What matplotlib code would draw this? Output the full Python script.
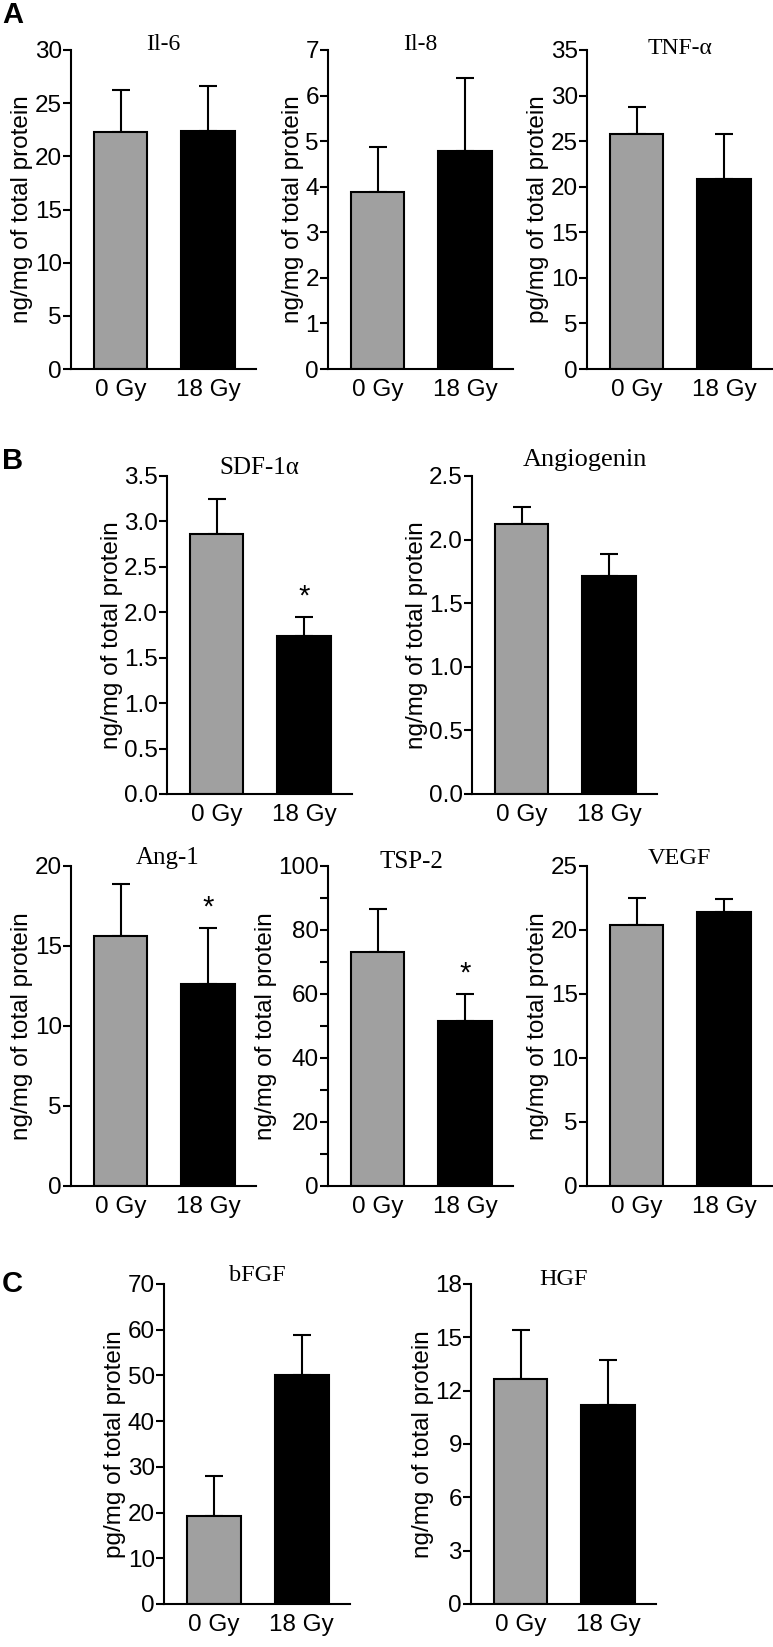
import numpy as np
import matplotlib
matplotlib.use('Agg')
import matplotlib.pyplot as plt
from matplotlib.ticker import MultipleLocator, FormatStrFormatter

plt.rcParams['font.family'] = ['Liberation Sans', 'DejaVu Sans']

W, H = 773, 1647

# data
names = ['Il-6', 'Il-8', 'TNF-\u03b1', 'SDF-1\u03b1', 'Angiogenin',
         'Ang-1', 'TSP-2', 'VEGF', 'bFGF', 'HGF']
groups = ['0 Gy', '18 Gy']
mean_0 = [22.3, 3.89, 25.8, 2.86, 2.12, 15.64, 73.0, 20.4, 19.2, 12.65]
mean_18 = [22.4, 4.79, 20.85, 1.735, 1.71, 12.64, 51.5, 21.4, 50.2, 11.17]
err_0 = [3.9, 0.99, 2.9, 0.39, 0.14, 3.22, 13.5, 2.1, 8.7, 2.74]
err_18 = [4.2, 1.60, 4.95, 0.21, 0.18, 3.46, 8.4, 1.0, 8.7, 2.53]
ymax = [30, 7, 35, 3.5, 2.5, 20, 100, 25, 70, 18]
ystep = [5, 1, 5, 0.5, 0.5, 5, 20, 5, 10, 3]
units = ['ng', 'ng', 'pg', 'ng', 'ng', 'ng', 'ng', 'ng', 'pg', 'ng']
signif = [False, False, False, True, False, True, True, False, False, False]

# layout in pixels: left, top, right, bottom
boxes = [(71, 50, 256, 369), (328, 50, 513, 369), (587, 50, 772, 369),
         (167, 476, 352, 794), (472, 476, 657, 794),
         (71, 866, 256, 1186), (328, 866, 513, 1186), (587, 866, 772, 1186),
         (164, 1284, 350, 1604), (471, 1284, 656, 1604)]
title_pos = [(0.5, 1.016, 17), (0.5, 1.016, 17), (0.5, 1.006, 17),
             (0.5, 1.025, 18), (0.61, 1.05, 19),
             (0.52, 1.024, 18), (0.45, 1.013, 18), (0.5, 1.024, 17.5),
             (0.5, 1.028, 17.5), (0.5, 1.013, 17.5)]

gray = '#a0a0a0'
lw = 1.5
fs = 17.5

fig = plt.figure(figsize=(W / 100, H / 100), dpi=100)

for i in range(len(names)):
    l, t, r, b = boxes[i]
    ax = fig.add_axes([l / W, 1 - b / H, (r - l) / W, (b - t) / H])
    x = np.array([0, 1])
    vals = [mean_0[i], mean_18[i]]
    errs = [err_0[i], err_18[i]]
    ax.errorbar(x, vals, yerr=[[0, 0], errs], fmt='none', ecolor='black',
                elinewidth=lw, capsize=6.5, capthick=lw, zorder=1)
    ax.bar(x, vals, width=0.61, color=[gray, 'black'], edgecolor='black',
           linewidth=lw, zorder=2)
    ax.set_xlim(-0.566, 1.549)
    ax.set_ylim(0, ymax[i])
    ax.yaxis.set_major_locator(MultipleLocator(ystep[i]))
    if names[i] == 'TSP-2':
        ax.yaxis.set_minor_locator(MultipleLocator(10))
        ax.tick_params(axis='y', which='minor', length=5.5, width=lw)
    if ystep[i] < 1:
        ax.yaxis.set_major_formatter(FormatStrFormatter('%.1f'))
    ax.set_xticks(x)
    ax.set_xticklabels(groups)
    ax.tick_params(axis='x', length=0, pad=7, labelsize=fs)
    ax.tick_params(axis='y', length=5.5, width=lw, pad=1, labelsize=fs)
    for s in ['top', 'right']:
        ax.spines[s].set_visible(False)
    for s in ['left', 'bottom']:
        ax.spines[s].set_linewidth(lw)
    ax.set_ylabel(units[i] + '/mg of total protein', fontsize=17.5, labelpad=1)
    tx, ty, ts = title_pos[i]
    ax.text(tx, ty, names[i], transform=ax.transAxes, ha='center', va='center',
            fontsize=ts, family=['Liberation Serif', 'DejaVu Serif'])
    if signif[i]:
        ax.annotate('*', (1, mean_18[i] + err_18[i]), xytext=(0, 5),
                    textcoords='offset points', ha='center', va='bottom',
                    fontsize=21)

for lab, y in [('A', 15), ('B', 461), ('C', 1284)]:
    fig.text(2 / W, 1 - y / H, lab, ha='left', va='center', fontsize=21,
             fontweight='bold')

fig.savefig('out.png', dpi=100)
